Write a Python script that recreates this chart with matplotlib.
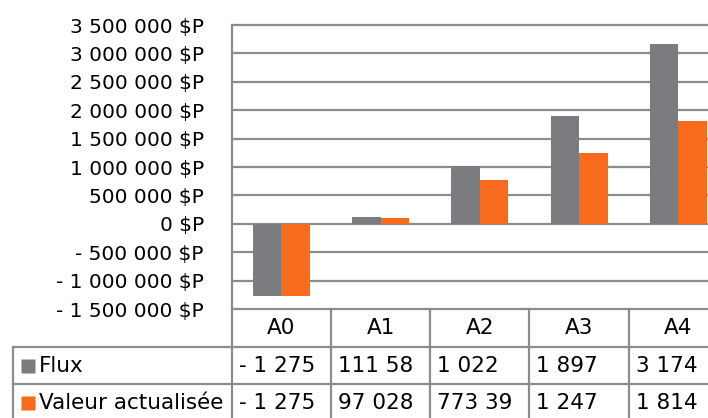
import matplotlib
matplotlib.use('Agg')
import matplotlib.pyplot as plt
import matplotlib.transforms as mtransforms

# Data
categories = ['A0', 'A1', 'A2', 'A3', 'A4']
series_names = ['Flux', 'Valeur actualisée']
flux = [-1275000, 111580, 1022000, 1897000, 3174000]
valeur = [-1275000, 97028, 773390, 1247000, 1814000]
y_ticks = [-1500000, -1000000, -500000, 0, 500000, 1000000, 1500000,
           2000000, 2500000, 3000000, 3500000]

colors = ['#7b7c80', '#f96b1c']
grid_color = '#8c8c8c'

plt.rcParams['font.family'] = ['DejaVu Sans']
FS_TICK = 14.5
FS_TABLE = 15.5


def fmt_money(v):
    # French style: space thousands separator, "- " for negatives
    s = '{:,.0f}'.format(abs(v)).replace(',', ' ')
    if v < 0:
        s = '- ' + s
    return s + ' $P'


W, H = 708, 418
fig = plt.figure(figsize=(W / 100, H / 100), dpi=100)

# plot area in pixels (right side runs past the figure edge, as in the reference)
left_px, right_px, top_px, bottom_px = 231.7, 728.0, 25.0, 309.0
ax = fig.add_axes([left_px / W, (H - bottom_px) / H,
                   (right_px - left_px) / W, (bottom_px - top_px) / H])

x = list(range(len(categories)))
bw = 0.287
ax.bar([i - bw / 2 for i in x], flux, bw, color=colors[0], zorder=3)
ax.bar([i + bw / 2 for i in x], valeur, bw, color=colors[1], zorder=3)

ax.set_xlim(-0.5, len(categories) - 0.5)
ax.set_ylim(y_ticks[0], y_ticks[-1])
ax.set_yticks(y_ticks)
ax.set_yticklabels([fmt_money(v) for v in y_ticks], fontsize=FS_TICK)
ax.set_xticks([])
ax.tick_params(axis='y', length=0, pad=20)
for yv in y_ticks:
    ax.axhline(yv, color=grid_color, lw=1.6, zorder=1, clip_on=False)
for s in ['top', 'right', 'bottom']:
    ax.spines[s].set_visible(False)
ax.spines['left'].set_color(grid_color)
ax.spines['left'].set_linewidth(1.6)

# ---- data table below the plot ----
px_per_cat = (right_px - left_px) / len(categories)
axes_h = bottom_px - top_px
row_h = 37.7 / axes_h
trans = mtransforms.blended_transform_factory(ax.transData, ax.transAxes)
label_left = -0.5 - (left_px - 13.3) / px_per_cat
right_edge = len(categories) - 0.5
n_rows = len(series_names) + 1

# vertical lines
for k in range(len(categories) + 1):
    ax.plot([k - 0.5, k - 0.5], [0, -n_rows * row_h], color=grid_color,
            lw=1.6, transform=trans, clip_on=False)
ax.plot([label_left, label_left], [-row_h, -n_rows * row_h], color=grid_color,
        lw=1.6, transform=trans, clip_on=False)
# horizontal lines
for r in range(1, n_rows + 1):
    ax.plot([label_left, right_edge], [-r * row_h, -r * row_h], color=grid_color,
            lw=1.6, transform=trans, clip_on=False)

# header
for i, c in enumerate(categories):
    ax.text(i, -0.5 * row_h, c, ha='center', va='center', fontsize=FS_TABLE,
            transform=trans, clip_on=False)

# row labels with colour keys
key_x = -0.5 - (left_px - 27.8) / px_per_cat
text_x = -0.5 - (left_px - 39) / px_per_cat
for r, name in enumerate(series_names):
    yc = -(r + 1.5) * row_h
    ax.plot([key_x], [yc], marker='s', ms=10, color=colors[r], mec='none',
            transform=trans, clip_on=False)
    ax.text(text_x, yc, name, ha='left', va='center', fontsize=FS_TABLE,
            transform=trans, clip_on=False)

# value cells: left aligned, only whole characters that fit the cell
fig.canvas.draw()
renderer = fig.canvas.get_renderer()
pad = 7 / px_per_cat
limit = px_per_cat - 20
for r, vals in enumerate([flux, valeur]):
    yc = -(r + 1.5) * row_h
    for i, v in enumerate(vals):
        s = fmt_money(v)
        t = ax.text(i - 0.5 + pad, yc, s, ha='left', va='center', fontsize=FS_TABLE,
                    transform=trans, clip_on=False)
        while len(s) > 0 and t.get_window_extent(renderer).width > limit:
            s = s[:-1].rstrip()
            t.set_text(s)

fig.savefig('out.png', dpi=100)
